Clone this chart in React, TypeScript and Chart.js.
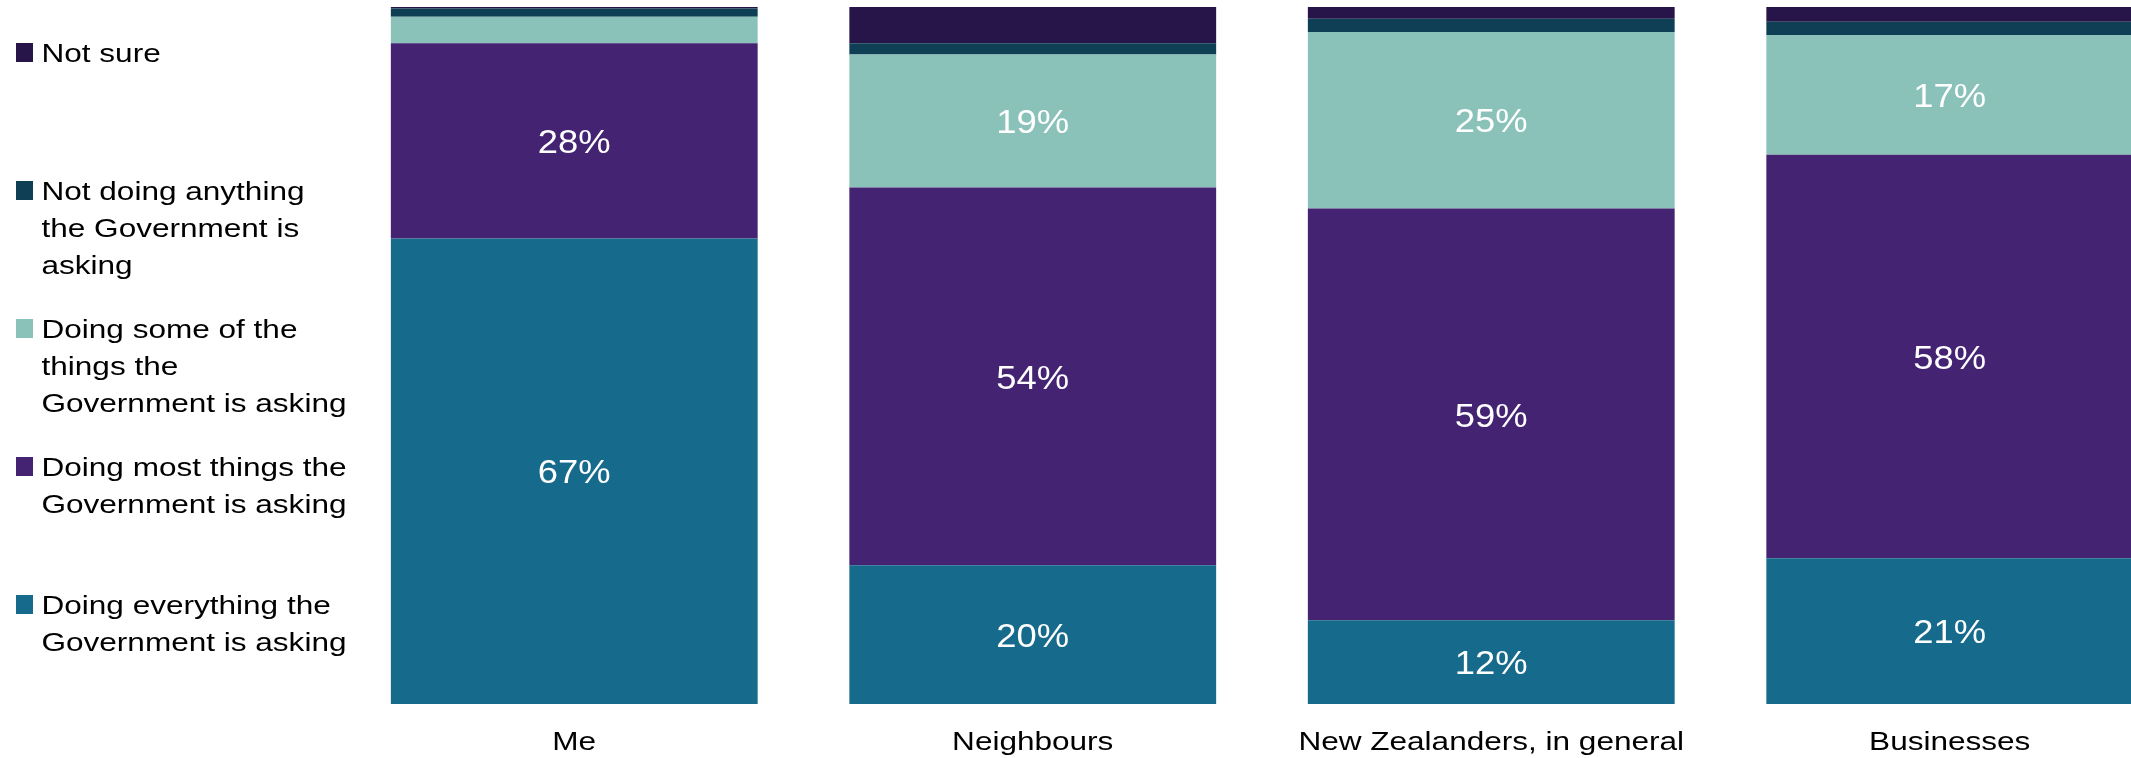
import React, { useEffect, useRef } from "react";
import { Chart, registerables } from "chart.js";

Chart.register(...registerables);

const categories = ["Me", "Neighbours", "New Zealanders, in general", "Businesses"];

const seriesNames = [
  "Doing everything the Government is asking",
  "Doing most things the Government is asking",
  "Doing some of the things the Government is asking",
  "Not doing anything the Government is asking",
  "Not sure",
];

const doingEverything = [66.8, 19.9, 12.0, 20.9];
const doingMost = [28.0, 54.2, 59.1, 57.9];
const doingSome = [3.8, 19.1, 25.3, 17.2];
const notDoing = [1.2, 1.6, 1.9, 1.9];
const notSure = [0.2, 5.2, 1.7, 2.1];

const seriesColors = ["#166A8B", "#432372", "#8AC2B9", "#0E3F55", "#27154A"];

// legend lines, same order as the series (bottom of stack first)
const legendLines = [
  ["Doing everything the", "Government is asking"],
  ["Doing most things the", "Government is asking"],
  ["Doing some of the", "things the", "Government is asking"],
  ["Not doing anything", "the Government is", "asking"],
  ["Not sure"],
];

const FONT = '"Liberation Sans", Arial, Helvetica, sans-serif';

function drawStretched(
  ctx: CanvasRenderingContext2D,
  text: string,
  x: number,
  y: number,
  sx: number,
  align: CanvasTextAlign
) {
  ctx.save();
  ctx.translate(x, y);
  ctx.scale(sx, 1);
  ctx.textAlign = align;
  ctx.textBaseline = "alphabetic";
  ctx.fillText(text, 0, 0);
  ctx.restore();
}

const textPlugin = {
  id: "textPlugin",
  afterDatasetsDraw(chart: any) {
    const ctx: CanvasRenderingContext2D = chart.ctx;
    // data labels
    ctx.save();
    ctx.fillStyle = "#FFFFFF";
    ctx.font = `34px ${FONT}`;
    chart.data.datasets.forEach((ds: any, di: number) => {
      const meta = chart.getDatasetMeta(di);
      meta.data.forEach((bar: any, i: number) => {
        const v = ds.data[i];
        if (v < 10) return;
        const cy = (bar.y + bar.base) / 2;
        drawStretched(ctx, Math.round(v) + "%", bar.x, cy + 12.2, 1.07, "center");
      });
    });
    ctx.restore();
  },
  afterDraw(chart: any) {
    const ctx: CanvasRenderingContext2D = chart.ctx;
    const xScale = chart.scales.x;
    ctx.save();
    ctx.fillStyle = "#000000";
    ctx.font = `26.5px ${FONT}`;
    categories.forEach((c, i) => {
      const x = xScale.getPixelForValue(i);
      drawStretched(ctx, c, x, 750, 1.19, "center");
    });
    // legend (top to bottom: reversed series order)
    const n = seriesNames.length;
    for (let k = 0; k < n; k++) {
      const si = n - 1 - k;
      const lines = legendLines[si];
      const firstCenter = 52.5 + 138 * k;
      ctx.fillStyle = seriesColors[si];
      ctx.fillRect(16, firstCenter - 9.5, 17, 19);
      ctx.fillStyle = "#000000";
      lines.forEach((ln, li) => {
        drawStretched(ctx, ln, 41.5, firstCenter + 9.5 + li * 37, 1.19, "left");
      });
    }
    ctx.restore();
  },
};

export default function App() {
  const ref = useRef<HTMLCanvasElement | null>(null);
  useEffect(() => {
    document.body.style.margin = "0";
    document.body.style.overflow = "hidden";
    const canvas = ref.current;
    if (!canvas) return;
    const series = [doingEverything, doingMost, doingSome, notDoing, notSure];
    const chart = new Chart(canvas, {
      type: "bar",
      data: {
        labels: categories,
        datasets: series.map((d, i) => ({
          label: seriesNames[i],
          data: d,
          backgroundColor: seriesColors[i],
          borderWidth: 0,
          categoryPercentage: 0.8,
          barPercentage: 1.0,
        })),
      },
      options: {
        responsive: false,
        animation: false,
        layout: { padding: { left: 345, top: 7, bottom: 54, right: 0 } },
        scales: {
          x: { stacked: true, display: false },
          y: { stacked: true, display: false, min: 0, max: 100 },
        },
        plugins: {
          legend: { display: false },
          tooltip: { enabled: false },
        },
      },
      plugins: [textPlugin],
    });
    return () => chart.destroy();
  }, []);
  return (
    <div style={{ width: 2131, height: 758, overflow: "hidden", position: "relative", background: "#fff" }}>
      <canvas ref={ref} width={2179} height={758} style={{ display: "block" }} />
    </div>
  );
}
